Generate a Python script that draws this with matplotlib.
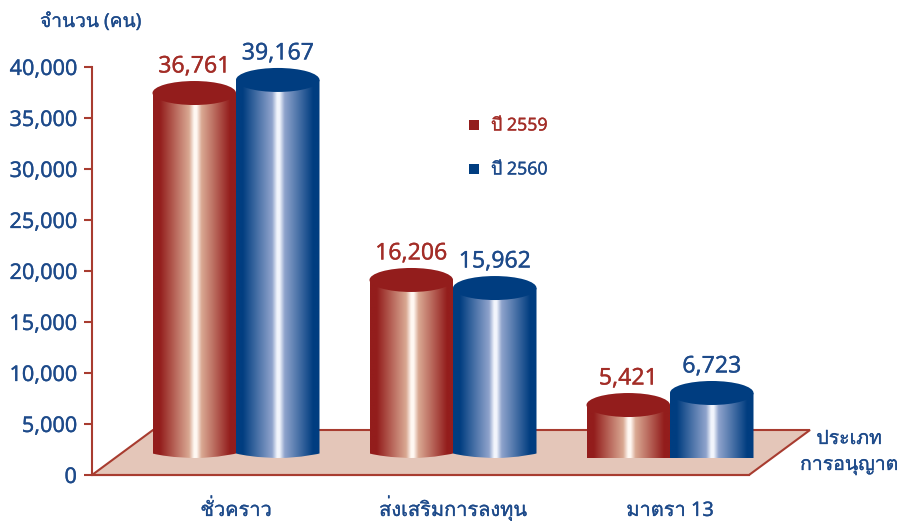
import matplotlib
matplotlib.use("Agg")
import matplotlib.pyplot as plt
import matplotlib.patheffects as pe
import numpy as np
from matplotlib.colors import LinearSegmentedColormap
from matplotlib.patches import Ellipse, PathPatch, Polygon
from matplotlib.path import Path
from matplotlib.text import Text

# digits from Noto Sans, Thai glyphs fall through to Loma
plt.rcParams['font.family'] = ['Noto Sans', 'Loma', 'DejaVu Sans']

categories = ['ชั่วคราว', 'ส่งเสริมการลงทุน', 'มาตรา 13']
years = ['ปี 2559', 'ปี 2560']
values_2559 = [36761, 16206, 5421]
values_2560 = [39167, 15962, 6723]
# the drawing is not to scale: where the cylinder tops really sit against the axis
tops_2559 = [37450, 19120, 6860]
tops_2560 = [38730, 18330, 8040]
yticks = [0, 5000, 10000, 15000, 20000, 25000, 30000, 35000, 40000]

W, H = 897, 521
RED = '#931d1c'
BLUE = '#003d80'
LINE = '#a83c30'
TXT_RED = '#a32d27'
TXT_BLUE = '#1d4a8a'

fig = plt.figure(figsize=(W / 100, H / 100), dpi=100)
# axes box in pixels: x 92..810, y 67..475
ax = fig.add_axes([92 / W, 1 - 475 / H, (810 - 92) / W, (475 - 67) / H])
xscale = 217.0
yscale = 408.0 / 40000
xlim = ((92 - 236) / xscale, (810 - 236) / xscale)
ax.set_xlim(xlim)
ax.set_ylim(0, 40000)
ax.patch.set_visible(False)

for s in ['top', 'right']:
    ax.spines[s].set_visible(False)
for s in ['left', 'bottom']:
    ax.spines[s].set_color(LINE)
    ax.spines[s].set_linewidth(1.5)
ax.spines['bottom'].set_bounds(xlim[0], (749 - 236) / xscale)

ax.set_yticks(yticks)
ax.set_yticklabels([f'{v:,}' for v in yticks], fontsize=15.6, color=TXT_BLUE)
ax.tick_params(axis='y', length=6, width=1.5, color=LINE, pad=5)
ax.set_xticks(range(len(categories)))
ax.set_xticklabels(categories, fontsize=14.4, color=TXT_BLUE, va='baseline')
ax.tick_params(axis='x', length=0, pad=29.5)

# floor
floor_h = 45 / yscale
floor_d = 61 / xscale
x_end = (749 - 236) / xscale
ax.add_patch(Polygon([(xlim[0], 0), (x_end, 0), (x_end + floor_d, floor_h), (xlim[0] + floor_d, floor_h)],
                     closed=True, facecolor='#e4c6b9', edgecolor=LINE, linewidth=1.5, zorder=1, clip_on=False))


def cyl_cmap(edge, mid, light):
    return LinearSegmentedColormap.from_list('c', [(0, edge), (0.08, edge), (0.43, mid), (0.49, light), (0.52, light),
                                                   (0.58, mid), (0.92, edge), (1, edge)])


red_cm = cyl_cmap(RED, '#d9a892', '#fff8f2')
blue_cm = cyl_cmap(BLUE, '#8fa3cc', '#f2f5fc')
grad = np.linspace(0, 1, 256).reshape(1, -1)
bar_w = 83.5 / xscale
base = 17 / yscale
cap_h = 24 / yscale
base_curve = [4.5 / yscale, 4.5 / yscale, 0.0]
label_gap = 8.5 / yscale


def cylinder(x0, top, color, cmap, curve, z):
    # side wall, gradient clipped to the outline
    k = 0.5523
    x1 = x0 + bar_w
    y0 = base + curve
    verts = [(x0, top), (x0, y0),
             (x0 + bar_w * (0.5 - k / 2), base), (x0 + bar_w / 2, base), (x0 + bar_w / 2, base),
             (x0 + bar_w * (0.5 + k / 2), base), (x1, y0), (x1, y0), (x1, top), (x0, top)]
    codes = [Path.MOVETO, Path.LINETO, Path.CURVE4, Path.CURVE4, Path.CURVE4,
             Path.CURVE4, Path.CURVE4, Path.CURVE4, Path.LINETO, Path.CLOSEPOLY]
    clip = PathPatch(Path(verts, codes), transform=ax.transData, facecolor='none', edgecolor='none')
    ax.add_patch(clip)
    im = ax.imshow(grad, extent=(x0, x1, base, top), aspect='auto', cmap=cmap, zorder=z, interpolation='bilinear')
    im.set_clip_path(clip)
    ax.add_patch(Ellipse((x0 + bar_w / 2, top), bar_w, cap_h, facecolor=color, edgecolor='none', zorder=z + 0.1))


for i in range(len(categories)):
    cylinder(i - bar_w, tops_2559[i], RED, red_cm, base_curve[i], 3)
    cylinder(i, tops_2560[i], BLUE, blue_cm, base_curve[i], 3.5)
    ax.text(i - bar_w / 2, tops_2559[i] + cap_h / 2 + label_gap, f'{values_2559[i]:,}', ha='center', va='baseline',
            fontsize=16.6, color=TXT_RED, zorder=6)
    ax.text(i + bar_w / 2, tops_2560[i] + cap_h / 2 + label_gap, f'{values_2560[i]:,}', ha='center', va='baseline',
            fontsize=16.6, color=TXT_BLUE, zorder=6)

ax.set_xlim(xlim)
ax.set_ylim(0, 40000)

# legend
for label, c, c_txt, py in zip(years, [RED, BLUE], [TXT_RED, TXT_BLUE], [125, 169]):
    fig.text(491 / W, 1 - (py + 5.5) / H, label, fontsize=12.8, color=c_txt, va='baseline', ha='left')
    ax.scatter([(474 - 236) / xscale], [(475 - py) / yscale], marker='s', s=50, color=c, linewidths=0, zorder=6)

fig.text(40 / W, 1 - 27 / H, 'จำนวน (คน)', fontsize=13.8, color=TXT_BLUE, va='baseline', ha='left')
fig.text(849 / W, 1 - 444 / H, 'ประเภท', fontsize=14, color=TXT_BLUE, va='baseline', ha='center')
fig.text(849 / W, 1 - 470 / H, 'การอนุญาต', fontsize=14, color=TXT_BLUE, va='baseline', ha='center')

# reference text is a bit heavier than these fonts
for t in fig.findobj(Text):
    t.set_path_effects([pe.withStroke(linewidth=0.2, foreground=t.get_color())])

fig.savefig('out.png', dpi=100)
